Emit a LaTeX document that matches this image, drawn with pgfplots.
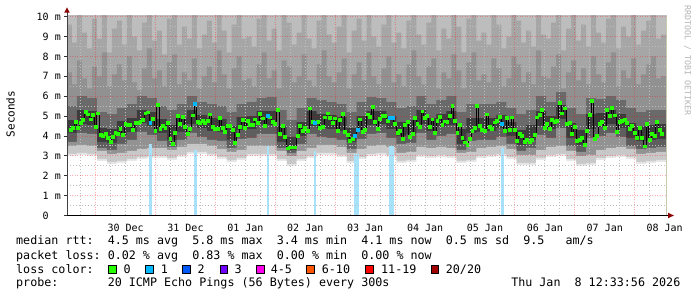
\documentclass[border=0pt]{standalone}
\usepackage{fontspec}
\setmainfont{DejaVu Sans}
\setmonofont{DejaVu Sans Mono}
\usepackage{pgfplots}
\pgfplotsset{compat=1.18}
\usepackage{pgfplotstable}
\usetikzlibrary{arrows.meta}

\definecolor{sA}{HTML}{BDBDBD}
\definecolor{sB}{HTML}{A6A6A6}
\definecolor{sC}{HTML}{919191}
\definecolor{sD}{HTML}{6A6A6A}
\definecolor{sE}{HTML}{3C3C3C}
\definecolor{sF}{HTML}{5E5E5E}
\definecolor{sG}{HTML}{929292}
\definecolor{sH}{HTML}{C8C8C8}
\definecolor{sI}{HTML}{E4E4E4}
\definecolor{lossbar}{HTML}{A6E3FA}
\definecolor{lcA}{HTML}{26FF00}
\definecolor{lcB}{HTML}{00B8FF}
\definecolor{lcC}{HTML}{0059FF}
\definecolor{lcD}{HTML}{7000FF}
\definecolor{lcE}{HTML}{FF00EA}
\definecolor{lcF}{HTML}{FF5500}
\definecolor{lcG}{HTML}{FF0000}
\definecolor{lcH}{HTML}{A10000}
\definecolor{arrowred}{HTML}{8B0000}
\definecolor{framecol}{HTML}{C8C8AA}
\definecolor{wm}{HTML}{B4B4B4}

\newcommand{\legfont}{\ttfamily\fontsize{11.7bp}{14bp}\selectfont}
\newcommand{\tickfont}{\ttfamily\fontsize{10bp}{12bp}\selectfont}

\pgfplotstableread{
x l0 l1 l2 l3 lc uc u3
-11.45 3.00 3.10 3.50 3.70 4.15 4.80 5.50
-7.45 3.05 3.15 3.55 4.15 4.60 5.30 6.00
-3.45 3.00 3.10 3.50 4.10 4.55 5.25 5.90
0.55 2.75 2.85 3.25 3.40 3.70 4.40 5.20
4.55 2.60 2.70 3.10 3.30 3.65 4.35 5.10
8.55 2.65 2.75 3.15 3.60 4.05 4.75 5.40
12.55 2.75 2.85 3.25 3.80 4.20 4.90 5.60
16.55 2.85 2.95 3.35 4.20 4.65 5.30 6.00
20.55 2.90 3.00 3.40 4.05 4.50 5.20 5.90
24.55 2.90 3.00 3.40 3.75 4.15 4.85 5.50
28.55 2.80 2.90 3.30 3.45 3.80 4.55 5.30
32.55 2.95 3.05 3.45 3.80 4.20 4.90 5.60
36.55 3.10 3.20 3.60 4.15 4.60 5.30 6.00
40.55 3.10 3.20 3.60 3.95 4.40 5.05 5.70
44.55 3.00 3.10 3.50 3.80 4.25 4.90 5.60
48.55 2.85 2.95 3.35 3.75 4.20 4.85 5.50
52.55 2.70 2.80 3.20 3.40 3.80 4.50 5.20
56.55 2.80 2.90 3.30 3.85 4.30 4.95 5.60
60.55 3.00 3.10 3.50 3.90 4.35 5.00 5.70
64.55 3.00 3.10 3.50 4.10 4.55 5.25 5.90
68.55 3.00 3.10 3.50 4.10 4.55 5.25 5.95
72.55 2.75 2.85 3.25 3.40 3.70 4.50 5.30
76.55 2.50 2.60 3.00 3.15 3.30 3.95 4.80
80.55 2.75 2.85 3.25 3.60 4.00 4.70 5.40
84.55 2.90 3.00 3.40 4.10 4.50 5.25 5.90
88.55 3.05 3.15 3.55 3.95 4.40 5.10 5.80
92.55 3.05 3.15 3.55 3.90 4.35 5.05 5.70
96.55 2.95 3.05 3.45 3.80 4.25 4.95 5.60
100.55 2.65 2.75 3.15 3.35 3.70 4.40 5.20
104.55 2.85 2.95 3.35 3.85 4.30 5.00 5.70
108.55 3.00 3.10 3.50 4.10 4.55 5.25 5.95
112.55 3.05 3.15 3.55 4.15 4.60 5.25 5.90
116.55 2.95 3.05 3.45 3.90 4.35 5.00 5.70
120.55 2.65 2.75 3.15 3.60 4.00 4.70 5.40
124.55 2.70 2.80 3.20 3.65 4.10 4.80 5.50
128.55 2.95 3.05 3.45 4.15 4.60 5.30 6.00
132.55 2.90 3.00 3.40 3.80 4.25 4.90 5.60
136.55 2.95 3.05 3.45 4.00 4.45 5.10 5.80
140.55 2.90 3.00 3.40 4.10 4.55 5.25 6.00
144.55 2.65 2.75 3.15 3.30 3.60 4.35 5.20
148.55 2.70 2.80 3.20 3.75 4.15 4.90 5.60
152.55 2.90 3.00 3.40 3.80 4.20 4.90 5.60
156.55 2.95 3.05 3.45 3.80 4.25 4.90 5.60
160.55 3.00 3.10 3.50 3.95 4.40 5.05 5.70
164.55 2.85 2.95 3.35 3.60 4.00 4.70 5.40
168.55 2.55 2.65 3.05 3.25 3.55 4.30 5.10
172.55 2.55 2.65 3.05 3.40 3.80 4.55 5.30
176.55 2.80 2.90 3.30 4.05 4.50 5.25 6.00
180.55 2.95 3.05 3.45 3.90 4.35 5.00 5.70
184.55 3.00 3.10 3.50 4.40 4.85 5.55 6.20
188.55 2.75 2.85 3.25 3.50 3.90 4.65 5.40
192.55 2.50 2.60 3.00 3.20 3.55 4.30 5.10
196.55 2.55 2.65 3.05 3.90 4.35 5.10 5.90
200.55 2.80 2.90 3.30 4.00 4.45 5.15 5.85
204.55 2.90 3.00 3.40 4.15 4.60 5.30 6.00
208.55 2.95 3.05 3.45 3.95 4.40 5.10 5.80
212.55 2.85 2.95 3.35 3.50 3.90 4.65 5.40
216.55 2.60 2.70 3.10 3.35 3.75 4.50 5.20
220.55 2.65 2.75 3.15 3.40 3.80 4.55 5.30
224.55 2.70 2.80 3.20 3.45 3.85 4.60 5.30
228.55 2.70 2.80 3.20 3.45 3.85 4.60 5.30
}\smoke

\pgfplotstableread[row sep=\\]{
x u1 u2\\
-11.45 9.6 7.2\\ -9.45 8.7 6.6\\ -7.45 10.1 7.8\\ -5.45 9.2 6.9\\ -3.45 8.4 6.4\\ -1.45 9.9 7.5\\ 0.55 8.9 7.0\\ 2.55 10.1 8.2\\ 4.55 8.2 6.5\\ 6.55 9.4 7.1\\
8.55 9.8 7.6\\ 10.55 8.6 6.8\\ 12.55 10.1 8.0\\ 14.55 9.0 6.7\\ 16.55 8.3 6.3\\ 18.55 9.7 7.4\\ 20.55 10.1 8.4\\ 22.55 8.8 6.9\\ 24.55 9.3 7.3\\ 26.55 8.1 6.5\\
28.55 9.9 7.7\\ 30.55 10.1 8.1\\ 32.55 8.6 6.6\\ 34.55 9.5 7.2\\ 36.55 8.9 6.8\\ 38.55 10.1 7.9\\ 40.55 8.4 6.4\\ 42.55 9.1 7.0\\ 44.55 9.8 7.5\\ 46.55 8.7 6.7\\
48.55 10.1 8.3\\ 50.55 9.3 7.1\\ 52.55 8.2 6.4\\ 54.55 9.6 7.4\\ 56.55 10.1 8.0\\ 58.55 8.9 6.8\\ 60.55 9.0 6.9\\ 62.55 8.5 6.5\\ 64.55 9.9 7.6\\ 66.55 10.1 8.2\\
68.55 8.8 6.9\\ 70.55 9.4 7.3\\ 72.55 8.3 6.4\\ 74.55 10.1 7.8\\ 76.55 9.7 7.5\\ 78.55 8.6 6.7\\ 80.55 9.2 7.0\\ 82.55 10.1 8.1\\ 84.55 8.9 6.8\\ 86.55 8.4 6.5\\
88.55 9.8 7.6\\ 90.55 10.1 8.3\\ 92.55 9.1 7.0\\ 94.55 8.7 6.7\\ 96.55 9.5 7.2\\ 98.55 10.1 7.9\\ 100.55 8.2 6.4\\ 102.55 9.3 7.1\\ 104.55 9.9 7.7\\ 106.55 8.8 6.8\\
108.55 10.1 8.2\\ 110.55 9.0 7.0\\ 112.55 8.5 6.6\\ 114.55 9.6 7.4\\ 116.55 10.1 8.0\\ 118.55 8.7 6.7\\ 120.55 9.2 7.1\\ 122.55 8.4 6.5\\ 124.55 9.8 7.6\\ 126.55 10.1 8.3\\
128.55 9.1 7.0\\ 130.55 8.6 6.6\\ 132.55 9.7 7.5\\ 134.55 10.1 7.9\\ 136.55 8.3 6.4\\ 138.55 9.4 7.2\\ 140.55 8.9 6.9\\ 142.55 10.1 8.1\\ 144.55 9.5 7.3\\ 146.55 8.2 6.4\\
148.55 9.9 7.7\\ 150.55 10.1 8.2\\ 152.55 8.8 6.8\\ 154.55 9.2 7.1\\ 156.55 8.6 6.7\\ 158.55 10.1 7.9\\ 160.55 9.6 7.4\\ 162.55 8.4 6.5\\ 164.55 9.0 6.9\\ 166.55 10.1 8.0\\
168.55 9.8 7.6\\ 170.55 8.7 6.7\\ 172.55 9.3 7.2\\ 174.55 8.5 6.6\\ 176.55 10.1 8.3\\ 178.55 9.1 7.0\\ 180.55 8.9 6.9\\ 182.55 9.7 7.5\\ 184.55 10.1 8.1\\ 186.55 8.3 6.4\\
188.55 9.4 7.2\\ 190.55 10.1 7.8\\ 192.55 8.8 6.8\\ 194.55 9.6 7.4\\ 196.55 8.5 6.6\\ 198.55 10.1 8.0\\ 200.55 9.2 7.1\\ 202.55 8.7 6.7\\ 204.55 9.9 7.7\\ 206.55 10.1 8.2\\
208.55 8.4 6.5\\ 210.55 9.5 7.3\\ 212.55 9.0 6.9\\ 214.55 10.1 7.9\\ 216.55 8.6 6.6\\ 218.55 9.3 7.1\\ 220.55 9.8 7.6\\ 222.55 10.1 8.0\\ 224.55 8.9 6.9\\ 226.55 9.1 7.0\\
228.55 9.1 7.0\\
}\streak

\pgfplotstableread[row sep=\\]{
h v\\
-10 4.29\\ -9 4.41\\ -8 4.69\\ -7 4.41\\ -6 4.66\\ -5 4.80\\ -4 5.21\\ -3 5.08\\ -2 4.83\\ -1 5.05\\
0 4.46\\ 1 5.13\\ 2 4.04\\ 3 3.99\\ 4 4.09\\ 5 3.91\\ 6 3.71\\ 7 3.97\\ 8 4.16\\ 9 4.09\\
10 4.33\\ 11 4.04\\ 12 4.58\\ 13 4.54\\ 14 4.54\\ 15 4.28\\ 16 4.66\\ 17 4.63\\ 18 4.71\\ 19 4.80\\
20 5.13\\ 21 5.18\\ 22 4.66\\ 23 4.85\\ 24 4.24\\ 25 5.58\\ 26 4.33\\ 27 4.51\\ 28 4.38\\ 29 4.66\\
30 3.84\\ 31 3.59\\ 32 4.16\\ 33 4.99\\ 34 4.59\\ 35 4.96\\ 36 4.43\\ 37 4.09\\ 38 4.34\\ 39 5.03\\
40 5.60\\ 41 4.71\\ 42 4.66\\ 43 4.76\\ 44 4.63\\ 45 4.76\\ 46 5.08\\ 47 4.46\\ 48 4.33\\ 49 4.34\\
50 4.91\\ 51 4.41\\ 52 4.21\\ 53 4.49\\ 54 4.51\\ 55 4.28\\ 56 3.66\\ 57 4.06\\ 58 4.44\\ 59 4.80\\
60 4.39\\ 61 4.74\\ 62 4.54\\ 63 4.54\\ 64 4.83\\ 65 4.66\\ 66 5.10\\ 67 4.88\\ 68 4.49\\ 69 5.00\\
70 4.93\\ 71 4.71\\ 72 4.59\\ 73 5.30\\ 74 4.12\\ 75 4.49\\ 76 3.96\\ 77 3.37\\ 78 3.42\\ 79 3.42\\
80 3.42\\ 81 3.99\\ 82 4.49\\ 83 4.24\\ 84 4.38\\ 85 4.26\\ 86 5.38\\ 87 4.69\\ 88 4.63\\ 89 4.69\\
90 4.39\\ 91 4.43\\ 92 4.93\\ 93 5.13\\ 94 4.90\\ 95 4.66\\ 96 4.88\\ 97 4.24\\ 98 4.80\\ 99 5.11\\
100 4.21\\ 101 4.06\\ 102 3.76\\ 103 3.86\\ 104 3.99\\ 105 4.28\\ 106 4.83\\ 107 4.19\\ 108 4.29\\ 109 5.08\\
110 4.96\\ 111 5.46\\ 112 4.69\\ 113 4.36\\ 114 4.86\\ 115 4.99\\ 116 4.99\\ 117 4.76\\ 118 4.90\\ 119 4.90\\
120 4.59\\ 121 4.16\\ 122 4.26\\ 123 3.86\\ 124 4.54\\ 125 4.69\\ 126 3.97\\ 127 4.12\\ 128 4.90\\ 129 4.59\\
130 4.46\\ 131 5.23\\ 132 4.90\\ 133 4.99\\ 134 4.43\\ 135 4.83\\ 136 4.16\\ 137 4.74\\ 138 4.96\\ 139 4.56\\
140 4.73\\ 141 4.71\\ 142 5.01\\ 143 5.50\\ 144 4.76\\ 145 4.16\\ 146 4.56\\ 147 3.92\\ 148 3.67\\ 149 3.54\\
150 3.87\\ 151 4.23\\ 152 4.39\\ 153 5.52\\ 154 4.48\\ 155 4.29\\ 156 4.26\\ 157 5.08\\ 158 4.46\\ 159 4.33\\
160 4.68\\ 161 4.74\\ 162 4.96\\ 163 4.61\\ 164 4.26\\ 165 4.90\\ 166 4.29\\ 167 4.93\\ 168 4.29\\ 169 3.76\\
170 4.09\\ 171 3.99\\ 172 3.69\\ 173 3.79\\ 174 3.67\\ 175 3.82\\ 176 4.04\\ 177 4.93\\ 178 5.05\\ 179 5.30\\
180 4.39\\ 181 4.59\\ 182 4.34\\ 183 4.80\\ 184 4.71\\ 185 4.76\\ 186 5.68\\ 187 5.13\\ 188 5.38\\ 189 4.59\\
190 4.63\\ 191 4.09\\ 192 4.44\\ 193 3.74\\ 194 3.79\\ 195 3.92\\ 196 3.54\\ 197 4.26\\ 198 5.06\\ 199 5.77\\
200 3.84\\ 201 4.02\\ 202 4.59\\ 203 4.69\\ 204 4.41\\ 205 5.30\\ 206 5.00\\ 207 5.40\\ 208 5.03\\ 209 4.21\\
210 4.71\\ 211 4.74\\ 212 4.80\\ 213 4.63\\ 214 4.34\\ 215 4.49\\ 216 4.16\\ 217 3.92\\ 218 4.38\\ 219 3.89\\
220 3.47\\ 221 4.58\\ 222 3.82\\ 223 4.09\\ 224 4.01\\ 225 4.69\\ 226 4.29\\ 227 4.12\\
}\med

\begin{document}
\begin{tikzpicture}
\path[use as bounding box] (0,0) rectangle (697bp,297bp);
\begin{axis}[
  at={(67bp,81.5bp)}, anchor=south west,
  scale only axis, width=599bp, height=200.4bp,
  xmin=-11.45, xmax=228.55, ymin=0, ymax=10.08,
  axis on top,
  axis line style={draw=none},
  xtick={0,24,...,216},
  xticklabels={30 Dec,31 Dec,01 Jan,02 Jan,03 Jan,04 Jan,05 Jan,06 Jan,07 Jan,08 Jan},
  minor xtick={-6,6,12,18,30,36,42,54,60,66,78,84,90,102,108,114,126,132,138,150,156,162,174,180,186,198,204,210,222},
  ytick={0,1,...,10},
  yticklabels={0\phantom{\ m},1 m,2 m,3 m,4 m,5 m,6 m,7 m,8 m,9 m,10 m},
  minor ytick={0.5,1.5,2.5,3.5,4.5,5.5,6.5,7.5,8.5,9.5},
  xmajorgrids, ymajorgrids, xminorgrids, yminorgrids,
  major grid style={draw=red, draw opacity=0.32, line width=0.9bp, dash pattern=on 1bp off 1.5bp},
  minor grid style={draw=black!26, line width=0.9bp, dash pattern=on 1bp off 2bp},
  tick align=outside,
  tick pos=left,
  xtick style={draw=none},
  ytick style={draw=black!80, line width=0.9bp},
  major tick length=3bp, minor tick length=0pt,
  ticklabel style={font=\tickfont, text=black},
  xticklabel style={anchor=base, inner sep=0pt, xshift=30bp, yshift=-12.8bp},
  yticklabel style={anchor=east, inner sep=0pt, xshift=-3bp},
]
% smoke layers (painted from top down)
\addplot[draw=none, fill=sA] coordinates {(-11.45,10.08) (228.55,10.08)} \closedcycle;
\addplot[draw=none, fill=sB, const plot] table[x=x, y=u1] {\streak} \closedcycle;
\addplot[draw=none, fill=sC, const plot] table[x=x, y=u2] {\streak} \closedcycle;
\addplot[draw=none, fill=sD, const plot] table[x=x, y=u3] {\smoke} \closedcycle;
\addplot[draw=none, fill=sE, const plot] table[x=x, y=uc] {\smoke} \closedcycle;
\addplot[draw=none, fill=sF, const plot] table[x=x, y=lc] {\smoke} \closedcycle;
\addplot[draw=none, fill=sG, const plot] table[x=x, y=l3] {\smoke} \closedcycle;
\addplot[draw=none, fill=sH, const plot] table[x=x, y=l2] {\smoke} \closedcycle;
\addplot[draw=none, fill=sI, const plot] table[x=x, y=l1] {\smoke} \closedcycle;
\addplot[draw=none, fill=white, const plot] table[x=x, y=l0] {\smoke} \closedcycle;
% loss bars
\addplot[draw=none, fill=lossbar] coordinates {(21.5,3.6) (22.5,3.6)} \closedcycle;
\addplot[draw=none, fill=lossbar] coordinates {(39.5,3.3) (40.5,3.3)} \closedcycle;
\addplot[draw=none, fill=lossbar] coordinates {(68.5,3.5) (69.5,3.5)} \closedcycle;
\addplot[draw=none, fill=lossbar] coordinates {(87.5,3.25) (88.5,3.25)} \closedcycle;
\addplot[draw=none, fill=lossbar] coordinates {(103.5,3.1) (105.5,3.1)} \closedcycle;
\addplot[draw=none, fill=lossbar] coordinates {(117.5,3.5) (119.5,3.5)} \closedcycle;
\addplot[draw=none, fill=lossbar] coordinates {(162.5,3.4) (163.5,3.4)} \closedcycle;
% median
\addplot[black, line width=0.8bp, const plot mark mid] table[x=h, y=v] {\med};
\addplot[only marks, mark=square*, mark size=1.45bp, mark options={fill=lcA, draw=lcA, line width=0pt}] table[x=h, y=v] {\med};
\addplot[only marks, mark=square*, mark size=1.45bp, mark options={fill=lcB, draw=lcB, line width=0pt}] coordinates {(22,4.66) (40,5.60) (69,5.00) (88,4.63) (104,3.99) (105,4.28) (118,4.90) (119,4.90) (163,4.61)};
\end{axis}
% axis lines and arrows
\draw[framecol, line width=1bp] (666.5bp,81.5bp) -- (666.5bp,282bp);
\draw[black, line width=1bp] (67bp,81.5bp) -- (669bp,81.5bp);
\fill[arrowred] (668bp,84.3bp) -- (673.8bp,81.5bp) -- (668bp,78.7bp) -- cycle;
\draw[black!75, line width=1bp] (67bp,81.5bp) -- (67bp,285bp);
\fill[arrowred] (64.2bp,284.3bp) -- (67bp,289.5bp) -- (69.8bp,284.3bp) -- cycle;
% labels
\node[rotate=90, inner sep=0pt, font=\ttfamily\fontsize{11bp}{13bp}\selectfont] at (10.5bp,183bp) {Seconds};
\node[rotate=-90, anchor=west, inner sep=0pt, font=\ttfamily\fontsize{8.3bp}{10bp}\selectfont, text=wm] at (687.5bp,292bp) {RRDTOOL / TOBI OETIKER};
% legend
\node[anchor=base west, inner sep=0pt, font=\legfont] at (16bp,52bp) {median rtt:\ \ 4.5 ms avg\ \ 5.8 ms max\ \ 3.4 ms min\ \ 4.1 ms now\ \ 0.5 ms sd\ \ 9.5\ \ \ am/s};
\node[anchor=base west, inner sep=0pt, font=\legfont] at (16bp,38bp) {packet loss: 0.02 \% avg\ \ 0.83 \% max\ \ 0.00 \% min\ \ 0.00 \% now};
\node[anchor=base west, inner sep=0pt, font=\legfont] at (16bp,24bp) {loss color:};
\foreach \sx/\lx/\col/\txt in {108.7/123.3/lcA/0, 145.7/160.7/lcB/1, 182.7/197.3/lcC/2, 220/234.3/lcD/3, 256.7/270.7/lcE/4-5, 306.7/321.7/lcF/6-10, 365.7/381/lcG/11-19, 431/445.7/lcH/20\slash 20}{
  \filldraw[fill=\col, draw=black, line width=0.8bp] (\sx bp,24bp) rectangle ({\sx bp+7.3bp},31.7bp);
  \node[anchor=base west, inner sep=0pt, font=\legfont] at (\lx bp,24bp) {\txt};
}
\node[anchor=base west, inner sep=0pt, font=\legfont] at (16bp,10.3bp) {probe:\ \ \ \ \ \ \ 20 ICMP Echo Pings (56 Bytes) every 300s};
\node[anchor=base east, inner sep=0pt, font=\legfont] at (680.5bp,10.3bp) {Thu Jan\ \ 8 12:33:56 2026};
\end{tikzpicture}
\end{document}
